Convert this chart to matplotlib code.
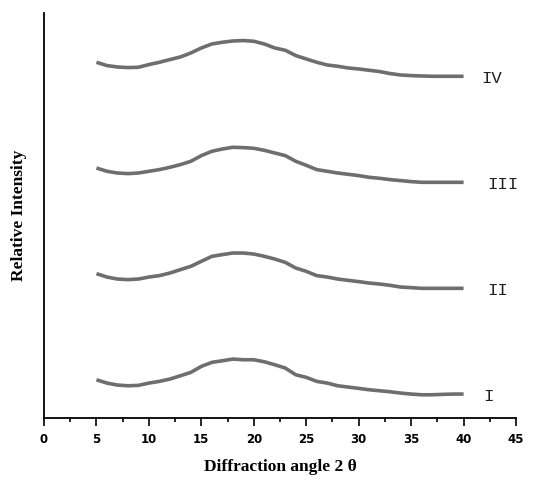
import matplotlib
matplotlib.use("Agg")
import matplotlib.pyplot as plt
from matplotlib.ticker import MultipleLocator

# diffraction angle (2 theta)
two_theta = list(range(5, 41))

# relative intensity of each sample above its own baseline
sample_I = [14.3, 11.0, 9.0, 8.3, 8.7, 11.0, 12.7, 15.0, 18.3, 21.7, 27.7, 31.7, 33.3, 35.0,
            34.3, 34.3, 32.3, 29.3, 26.0, 19.3, 16.7, 12.7, 11.0, 8.3, 7.0, 5.7, 4.3, 3.3,
            2.3, 1.0, 0.0, -0.7, -0.7, -0.3, 0.0, 0.0]
sample_II = [14.7, 11.3, 9.3, 8.7, 9.3, 11.3, 12.7, 15.3, 18.7, 22.0, 27.0, 32.0, 33.7, 35.3,
             35.3, 34.3, 32.0, 29.3, 26.0, 20.3, 17.0, 12.7, 11.3, 9.3, 8.0, 6.7, 5.3, 4.3,
             3.0, 1.3, 0.7, 0.0, 0.0, 0.0, 0.0, 0.0]
sample_III = [14.3, 11.0, 9.3, 8.7, 9.3, 11.0, 12.7, 15.0, 17.7, 21.0, 26.7, 31.0, 33.3, 35.0,
              34.7, 34.0, 32.0, 29.3, 26.7, 21.0, 17.0, 12.7, 11.0, 9.3, 8.0, 6.7, 5.0, 4.0,
              2.7, 1.7, 0.7, 0.0, 0.0, 0.0, 0.0, 0.0]
sample_IV = [14.0, 10.7, 9.3, 8.7, 9.0, 11.7, 14.0, 16.7, 19.3, 23.3, 28.3, 32.3, 34.0, 35.3,
             35.7, 35.0, 32.3, 28.3, 26.0, 20.7, 17.3, 14.0, 11.3, 10.0, 8.3, 7.3, 6.0, 4.7,
             2.7, 1.3, 0.7, 0.3, 0.0, 0.0, 0.0, 0.0]

series = [sample_I, sample_II, sample_III, sample_IV]
offsets = [24.0, 129.7, 235.7, 341.7]
labels = ["I", "II", "III", "IV"]
label_x = [42.4, 43.2, 43.7, 42.7]

fig = plt.figure(figsize=(5.55, 4.8), dpi=100)
ax = fig.add_axes([0.0793, 0.129, 0.8505, 0.844])

for vals, off, lab, lx in zip(series, offsets, labels, label_x):
    ax.plot(two_theta, [v + off for v in vals], color="#6e6e6e", lw=2.6,
            solid_joinstyle="round", solid_capstyle="butt")
    ax.text(lx, off - 2, lab, ha="center", va="center", fontsize=12.5,
            family="Liberation Mono", color="#222222")

ax.set_xlim(0, 45)
ax.set_ylim(0, 405)
ax.xaxis.set_major_locator(MultipleLocator(5))
ax.xaxis.set_minor_locator(MultipleLocator(2.5))
ax.tick_params(axis="x", which="major", length=6, width=1.2, direction="out",
               labelsize=8.5, pad=5)
ax.tick_params(axis="x", which="minor", length=3, width=1.2, direction="out")
for t in ax.get_xticklabels():
    t.set_fontweight("bold")
ax.set_yticks([])
for s in ["top", "right"]:
    ax.spines[s].set_visible(False)
for s in ["left", "bottom"]:
    ax.spines[s].set_linewidth(1.3)

ax.set_xlabel("Diffraction angle 2 θ", fontsize=12.5, fontweight="bold",
              family="Liberation Serif", labelpad=9)
ax.set_ylabel("Relative Intensity", fontsize=12.5, fontweight="bold",
              family="Liberation Serif", labelpad=12)

fig.savefig("out.png", dpi=100)
